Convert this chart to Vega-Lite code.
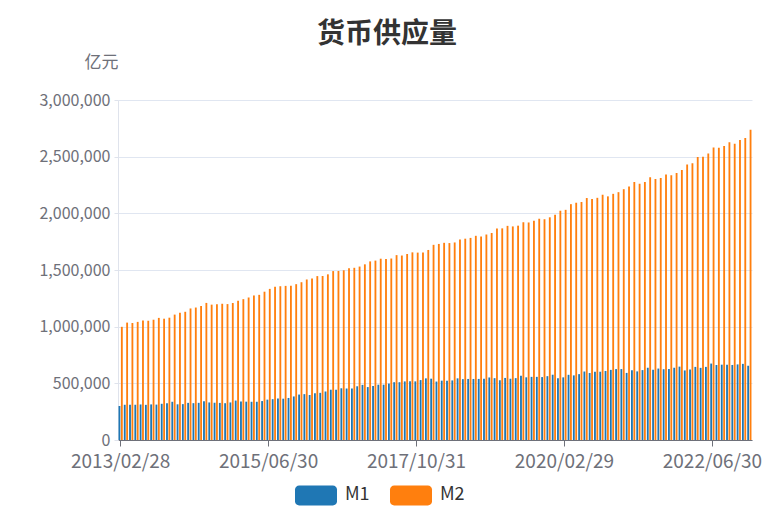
{
  "$schema": "https://vega.github.io/schema/vega-lite/v6.json",
  "width": 634,
  "height": 340,
  "autosize": {"type": "none"},
  "padding": {"left": 118, "top": 100, "right": 17, "bottom": 91},
  "background": "white",
  "title": {
    "text": "货币供应量",
    "anchor": "middle",
    "frame": "group",
    "dx": -48,
    "offset": 4,
    "fontSize": 28,
    "fontWeight": "bold",
    "color": "#333333",
    "font": "Noto Sans CJK SC"
  },
  "data": {
    "values": [
      {"date": "2013/02/28", "M1": 299957, "M2": 998600},
      {"date": "2013/03/31", "M1": 310898, "M2": 1035858},
      {"date": "2013/04/30", "M1": 310300, "M2": 1032552},
      {"date": "2013/05/31", "M1": 311000, "M2": 1042169},
      {"date": "2013/06/30", "M1": 313499, "M2": 1054404},
      {"date": "2013/07/31", "M1": 310200, "M2": 1052212},
      {"date": "2013/08/31", "M1": 314000, "M2": 1061256},
      {"date": "2013/09/30", "M1": 312300, "M2": 1077379},
      {"date": "2013/10/31", "M1": 319500, "M2": 1070242},
      {"date": "2013/11/30", "M1": 324200, "M2": 1079257},
      {"date": "2013/12/31", "M1": 337291, "M2": 1106525},
      {"date": "2014/01/31", "M1": 314900, "M2": 1123521},
      {"date": "2014/02/28", "M1": 316600, "M2": 1131273},
      {"date": "2014/03/31", "M1": 327700, "M2": 1160687},
      {"date": "2014/04/30", "M1": 325100, "M2": 1168812},
      {"date": "2014/05/31", "M1": 327900, "M2": 1182300},
      {"date": "2014/06/30", "M1": 341500, "M2": 1209587},
      {"date": "2014/07/31", "M1": 331300, "M2": 1194249},
      {"date": "2014/08/31", "M1": 328800, "M2": 1197499},
      {"date": "2014/09/30", "M1": 327200, "M2": 1202051},
      {"date": "2014/10/31", "M1": 324700, "M2": 1199236},
      {"date": "2014/11/30", "M1": 331300, "M2": 1208606},
      {"date": "2014/12/31", "M1": 348056, "M2": 1228375},
      {"date": "2015/01/31", "M1": 340600, "M2": 1242710},
      {"date": "2015/02/28", "M1": 338200, "M2": 1257384},
      {"date": "2015/03/31", "M1": 337200, "M2": 1275332},
      {"date": "2015/04/30", "M1": 337300, "M2": 1280779},
      {"date": "2015/05/31", "M1": 343500, "M2": 1308573},
      {"date": "2015/06/30", "M1": 356100, "M2": 1333375},
      {"date": "2015/07/31", "M1": 360400, "M2": 1353211},
      {"date": "2015/08/31", "M1": 365800, "M2": 1356863},
      {"date": "2015/09/30", "M1": 364400, "M2": 1359824},
      {"date": "2015/10/31", "M1": 370900, "M2": 1361022},
      {"date": "2015/11/30", "M1": 384300, "M2": 1374956},
      {"date": "2015/12/31", "M1": 400953, "M2": 1392278},
      {"date": "2016/01/31", "M1": 404700, "M2": 1416319},
      {"date": "2016/02/29", "M1": 397000, "M2": 1424616},
      {"date": "2016/03/31", "M1": 411600, "M2": 1446198},
      {"date": "2016/04/30", "M1": 416000, "M2": 1447085},
      {"date": "2016/05/31", "M1": 428000, "M2": 1461695},
      {"date": "2016/06/30", "M1": 443600, "M2": 1490492},
      {"date": "2016/07/31", "M1": 444000, "M2": 1491560},
      {"date": "2016/08/31", "M1": 456400, "M2": 1497528},
      {"date": "2016/09/30", "M1": 454300, "M2": 1516360},
      {"date": "2016/10/31", "M1": 454500, "M2": 1519473},
      {"date": "2016/11/30", "M1": 474000, "M2": 1530440},
      {"date": "2016/12/31", "M1": 486557, "M2": 1550067},
      {"date": "2017/01/31", "M1": 467000, "M2": 1575945},
      {"date": "2017/02/28", "M1": 476700, "M2": 1582918},
      {"date": "2017/03/31", "M1": 488000, "M2": 1599609},
      {"date": "2017/04/30", "M1": 488000, "M2": 1596331},
      {"date": "2017/05/31", "M1": 498000, "M2": 1601360},
      {"date": "2017/06/30", "M1": 510000, "M2": 1631282},
      {"date": "2017/07/31", "M1": 510000, "M2": 1627758},
      {"date": "2017/08/31", "M1": 517000, "M2": 1641042},
      {"date": "2017/09/30", "M1": 517900, "M2": 1655662},
      {"date": "2017/10/31", "M1": 517300, "M2": 1653432},
      {"date": "2017/11/30", "M1": 528800, "M2": 1653919},
      {"date": "2017/12/31", "M1": 543790, "M2": 1676769},
      {"date": "2018/01/31", "M1": 541000, "M2": 1722059},
      {"date": "2018/02/28", "M1": 515600, "M2": 1729958},
      {"date": "2018/03/31", "M1": 523500, "M2": 1739859},
      {"date": "2018/04/30", "M1": 522700, "M2": 1737683},
      {"date": "2018/05/31", "M1": 525800, "M2": 1743072},
      {"date": "2018/06/30", "M1": 544000, "M2": 1770179},
      {"date": "2018/07/31", "M1": 537000, "M2": 1776196},
      {"date": "2018/08/31", "M1": 538700, "M2": 1783125},
      {"date": "2018/09/30", "M1": 538600, "M2": 1801665},
      {"date": "2018/10/31", "M1": 539000, "M2": 1795558},
      {"date": "2018/11/30", "M1": 540900, "M2": 1813127},
      {"date": "2018/12/31", "M1": 551686, "M2": 1826744},
      {"date": "2019/01/31", "M1": 545600, "M2": 1865936},
      {"date": "2019/02/28", "M1": 527200, "M2": 1867427},
      {"date": "2019/03/31", "M1": 547600, "M2": 1889412},
      {"date": "2019/04/30", "M1": 540600, "M2": 1884671},
      {"date": "2019/05/31", "M1": 545800, "M2": 1891154},
      {"date": "2019/06/30", "M1": 567700, "M2": 1921360},
      {"date": "2019/07/31", "M1": 553000, "M2": 1919410},
      {"date": "2019/08/31", "M1": 557100, "M2": 1935492},
      {"date": "2019/09/30", "M1": 557100, "M2": 1952250},
      {"date": "2019/10/31", "M1": 555000, "M2": 1947999},
      {"date": "2019/11/30", "M1": 563300, "M2": 1964889},
      {"date": "2019/12/31", "M1": 576009, "M2": 1986489},
      {"date": "2020/01/31", "M1": 545500, "M2": 2023066},
      {"date": "2020/02/29", "M1": 552700, "M2": 2030830},
      {"date": "2020/03/31", "M1": 575100, "M2": 2080923},
      {"date": "2020/04/30", "M1": 570200, "M2": 2093533},
      {"date": "2020/05/31", "M1": 581100, "M2": 2100184},
      {"date": "2020/06/30", "M1": 604300, "M2": 2134949},
      {"date": "2020/07/31", "M1": 591200, "M2": 2125458},
      {"date": "2020/08/31", "M1": 601300, "M2": 2136836},
      {"date": "2020/09/30", "M1": 602300, "M2": 2164084},
      {"date": "2020/10/31", "M1": 609200, "M2": 2149720},
      {"date": "2020/11/30", "M1": 618600, "M2": 2172002},
      {"date": "2020/12/31", "M1": 625581, "M2": 2186796},
      {"date": "2021/01/31", "M1": 625600, "M2": 2213050},
      {"date": "2021/02/28", "M1": 592000, "M2": 2236030},
      {"date": "2021/03/31", "M1": 616100, "M2": 2276488},
      {"date": "2021/04/30", "M1": 605400, "M2": 2262100},
      {"date": "2021/05/31", "M1": 616800, "M2": 2275537},
      {"date": "2021/06/30", "M1": 637500, "M2": 2317788},
      {"date": "2021/07/31", "M1": 620400, "M2": 2302153},
      {"date": "2021/08/31", "M1": 630300, "M2": 2312100},
      {"date": "2021/09/30", "M1": 624600, "M2": 2342829},
      {"date": "2021/10/31", "M1": 626100, "M2": 2336160},
      {"date": "2021/11/30", "M1": 637500, "M2": 2356012},
      {"date": "2021/12/31", "M1": 647443, "M2": 2382899},
      {"date": "2022/01/31", "M1": 613900, "M2": 2431022},
      {"date": "2022/02/28", "M1": 621600, "M2": 2441488},
      {"date": "2022/03/31", "M1": 645100, "M2": 2497688},
      {"date": "2022/04/30", "M1": 636500, "M2": 2499700},
      {"date": "2022/05/31", "M1": 645100, "M2": 2527026},
      {"date": "2022/06/30", "M1": 674400, "M2": 2581451},
      {"date": "2022/07/31", "M1": 661800, "M2": 2578079},
      {"date": "2022/08/31", "M1": 664600, "M2": 2595068},
      {"date": "2022/09/30", "M1": 664500, "M2": 2626600},
      {"date": "2022/10/31", "M1": 662100, "M2": 2612914},
      {"date": "2022/11/30", "M1": 667000, "M2": 2647008},
      {"date": "2022/12/31", "M1": 671675, "M2": 2664320},
      {"date": "2023/01/31", "M1": 655200, "M2": 2738072}
    ]
  },
  "transform": [{"fold": ["M1", "M2"], "as": ["series", "value"]}],
  "mark": {"type": "bar"},
  "encoding": {
    "x": {
      "field": "date",
      "type": "nominal",
      "sort": null,
      "scale": {"paddingInner": 0.2, "paddingOuter": 0.1},
      "axis": {
        "title": null,
        "values": ["2013/02/28", "2015/06/30", "2017/10/31", "2020/02/29", "2022/06/30"],
        "labelAngle": 0,
        "labelFontSize": 19,
        "labelFont": "Noto Sans CJK SC",
        "labelColor": "#6e7079",
        "labelPadding": 6,
        "tickSize": 6,
        "tickColor": "#6e7079",
        "domainColor": "#6e7079",
        "grid": false
      }
    },
    "xOffset": {"field": "series", "scale": {"paddingInner": 0.23}},
    "y": {
      "field": "value",
      "type": "quantitative",
      "scale": {"domain": [0, 3000000]},
      "axis": {
        "title": "亿元",
        "titleAngle": 0,
        "titleX": -17,
        "titleY": -38,
        "titleAlign": "center",
        "titleBaseline": "middle",
        "titleFontSize": 17,
        "titleFontWeight": "normal",
        "titleFont": "Noto Sans CJK SC",
        "titleColor": "#6e7079",
        "values": [0, 500000, 1000000, 1500000, 2000000, 2500000, 3000000],
        "format": ",d",
        "labelFontSize": 16,
        "labelFont": "Noto Sans CJK SC",
        "labelColor": "#6e7079",
        "labelPadding": 4,
        "tickSize": 4,
        "tickColor": "#dfe3ec",
        "domainColor": "#dfe3ec",
        "gridColor": "#e0e6f1"
      }
    },
    "color": {
      "field": "series",
      "type": "nominal",
      "scale": {"domain": ["M1", "M2"], "range": ["#1f77b4", "#ff7f0e"]},
      "legend": {
        "title": null,
        "orient": "none",
        "direction": "horizontal",
        "legendX": 177,
        "legendY": 374,
        "padding": 0,
        "symbolType": "M-0.8,-0.48H0.8A0.2,0.2,0,0,1,1,-0.28V0.28A0.2,0.2,0,0,1,0.8,0.48H-0.8A0.2,0.2,0,0,1,-1,0.28V-0.28A0.2,0.2,0,0,1,-0.8,-0.48Z",
        "symbolSize": 1764,
        "symbolStrokeWidth": 0,
        "symbolOpacity": 1,
        "labelFontSize": 18,
        "labelFont": "Noto Sans CJK SC",
        "labelColor": "#333333",
        "labelOffset": 8,
        "columnPadding": 20
      }
    }
  },
  "config": {"view": {"stroke": null}}
}
